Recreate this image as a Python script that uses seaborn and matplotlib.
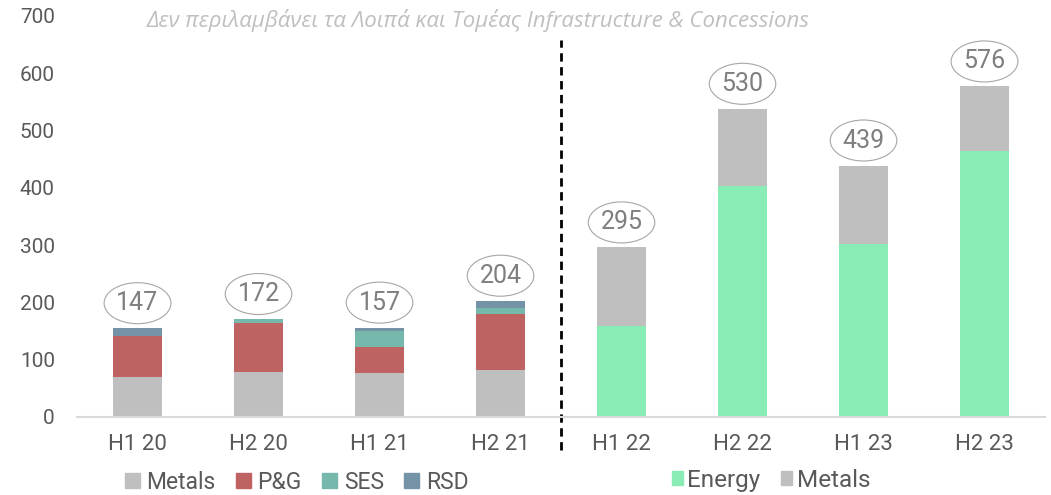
import numpy as np
import pandas as pd
import matplotlib
matplotlib.use("Agg")
import matplotlib.pyplot as plt
from matplotlib.patches import Patch
import seaborn as sns

# Data
periods = ["H1 20", "H2 20", "H1 21", "H2 21", "H1 22", "H2 22", "H1 23", "H2 23"]
metals = [70, 79, 76, 82, 138, 134, 137, 113]
pg = [72, 85, 47, 98, 0, 0, 0, 0]
ses = [-2, 7, 27, 10, 0, 0, 0, 0]
rsd = [13, 0, 6, 13, 0, 0, 0, 0]
energy = [0, 0, 0, 0, 158, 404, 302, 464]
totals = [147, 172, 157, 204, 295, 530, 439, 576]

df = pd.DataFrame({"period": periods, "metals": metals, "pg": pg,
                   "ses": ses, "rsd": rsd, "energy": energy})

c_metals = "#bfbfbf"
c_pg = "#bf6262"
c_ses = "#76b8ab"
c_rsd = "#7593a6"
c_energy = "#88ecb4"
txt = "#595959"

sns.set_style("white")
plt.rcParams["font.family"] = ["Roboto", "DejaVu Sans"]

fig = plt.figure(figsize=(10.51, 4.95), dpi=100)
ax = fig.add_axes([0.0733, 0.1576, 0.921, 0.8101])

# stack bottoms
b_energy = np.zeros(len(periods))
b_metals = df["energy"].values.astype(float)
b_pg = b_metals + df["metals"].values
b_ses = np.where(df["ses"].values >= 0, b_pg + df["pg"].values, 0)
b_rsd = b_pg + df["pg"].values + np.clip(df["ses"].values, 0, None)
tops = b_rsd + df["rsd"].values

layers = [("energy", b_energy, c_energy), ("metals", b_metals, c_metals),
          ("pg", b_pg, c_pg), ("ses", b_ses, c_ses), ("rsd", b_rsd, c_rsd)]
for col, bottom, color in layers:
    sns.barplot(data=df, x="period", y=col, bottom=bottom, color=color,
                width=0.4, saturation=1, errorbar=None, linewidth=0, ax=ax)

for p in ax.patches:
    p.set_clip_on(False)

ax.set_xlim(-0.5, 7.5)
ax.set_ylim(0, 700)
ax.set_yticks(range(0, 701, 100))
ax.set_xlabel("")
ax.set_ylabel("")
ax.tick_params(axis="both", length=0, colors=txt)
ax.tick_params(axis="y", labelsize=15, pad=16)
ax.tick_params(axis="x", labelsize=16, pad=12)
for s in ["left", "top", "right"]:
    ax.spines[s].set_visible(False)
ax.spines["bottom"].set_color("#d9d9d9")
ax.spines["bottom"].set_linewidth(1.5)

# divider between the two groups
ax.plot([3.5, 3.5], [-58, 658], color="black", lw=2,
        linestyle=(0, (3, 2)), clip_on=False)

# total labels in ellipses
for i, t in enumerate(totals):
    ax.annotate(str(t), xy=(i, tops[i]), xytext=(0, 18),
                textcoords="offset points", ha="center", va="center",
                fontsize=18, color="#7f7f7f",
                bbox=dict(boxstyle="ellipse,pad=0.1", fc="white",
                          ec="#a6a6a6", lw=0.8))

fig.text(0.455, 0.958,
         "Δεν περιλαμβάνει τα Λοιπά και Τομέας Infrastructure & Concessions",
         ha="center", va="center", fontsize=16, style="italic",
         color="#bfbfbf", family=["Open Sans", "DejaVu Sans"])

left_handles = [Patch(color=c_metals, label="Metals"), Patch(color=c_pg, label="P&G"),
                Patch(color=c_ses, label="SES"), Patch(color=c_rsd, label="RSD")]
fig.legend(handles=left_handles, loc="center left", bbox_to_anchor=(0.119, 0.026),
           ncol=4, frameon=False, fontsize=16.5, handlelength=0.63, handleheight=0.63,
           handletextpad=0.3, columnspacing=0.9, borderpad=0, borderaxespad=0,
           labelcolor=txt)

right_handles = [Patch(color=c_energy, label="Energy"), Patch(color=c_metals, label="Metals")]
fig.legend(handles=right_handles, loc="center left", bbox_to_anchor=(0.639, 0.03),
           ncol=2, frameon=False, fontsize=17.5, handlelength=0.45, handleheight=0.45,
           handletextpad=0.2, columnspacing=0.85, borderpad=0, borderaxespad=0,
           labelcolor=txt)

fig.savefig("out.png", dpi=100)
